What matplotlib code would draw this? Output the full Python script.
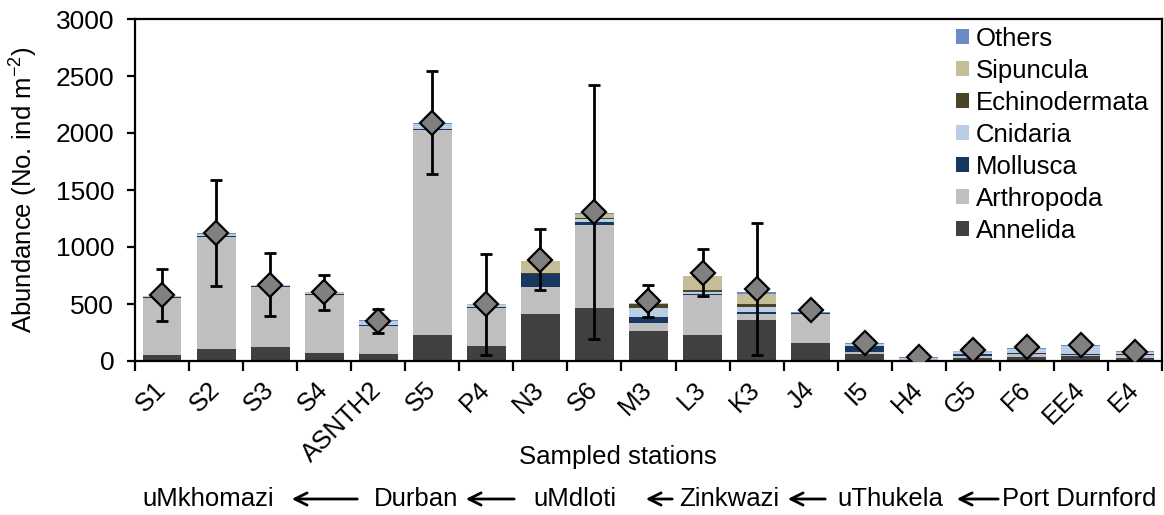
import numpy as np
import matplotlib
matplotlib.use("Agg")
import matplotlib.pyplot as plt
from matplotlib.transforms import ScaledTranslation

plt.rcParams["font.family"] = ["Liberation Sans", "DejaVu Sans"]
plt.rcParams["mathtext.default"] = "regular"

stations = ["S1", "S2", "S3", "S4", "ASNTH2", "S5", "P4", "N3", "S6", "M3",
            "L3", "K3", "J4", "I5", "H4", "G5", "F6", "EE4", "E4"]

# stacked abundance per phylum (No. ind m^-2)
annelida = [55, 105, 125, 73, 61, 228, 134, 410, 467, 263, 228, 359, 162, 65, 10, 25, 38, 45, 30]
arthropoda = [495, 980, 525, 510, 250, 1800, 335, 240, 730, 72, 355, 52, 250, 10, 5, 20, 25, 10, 25]
mollusca = [8, 8, 8, 8, 8, 10, 8, 110, 25, 53, 8, 20, 5, 55, 3, 20, 5, 3, 5]
cnidaria = [8, 20, 5, 8, 35, 40, 15, 5, 25, 73, 15, 43, 3, 15, 10, 15, 35, 75, 15]
echinodermata = [0, 0, 0, 0, 0, 0, 0, 5, 10, 40, 15, 23, 0, 0, 0, 0, 0, 0, 0]
sipuncula = [5, 5, 0, 5, 0, 0, 5, 105, 30, 10, 125, 95, 5, 5, 0, 5, 3, 0, 5]
others = [3, 8, 0, 3, 5, 8, 0, 0, 8, 0, 0, 10, 2, 5, 5, 5, 5, 7, 5]

# mean abundance and its error
mean_abund = [580, 1125, 671, 601, 350, 2090, 496, 890, 1307, 525, 773, 630, 446, 155, 35, 96, 125, 140, 81]
err_abund = [230, 467, 280, 150, 105, 451, 442, 266, 1113, 140, 207, 580, 40, 20, 10, 15, 15, 20, 10]

regions = ["uMkhomazi", "Durban", "uMdloti", "Zinkwazi", "uThukela", "Port Durnford"]

layers = [
    ("Annelida", annelida, "#404040"),
    ("Arthropoda", arthropoda, "#bfbfbf"),
    ("Mollusca", mollusca, "#17375e"),
    ("Cnidaria", cnidaria, "#b9cde5"),
    ("Echinodermata", echinodermata, "#4a4529"),
    ("Sipuncula", sipuncula, "#c4bd97"),
    ("Others", others, "#6a8cc4"),
]

FS = 18.5
W, H = 1164, 515
fig = plt.figure(figsize=(W / 100, H / 100), dpi=100)
ax = fig.add_axes([135 / W, 1 - 361 / H, (1162 - 135) / W, (361 - 19) / H])

x = np.arange(len(stations))
bottom = np.zeros(len(stations))
handles = []
for name, vals, col in layers:
    vals = np.asarray(vals, float)
    b = ax.bar(x, vals, 0.72, bottom=bottom, color=col, label=name, zorder=2, linewidth=0)
    handles.append(b)
    bottom += vals

ax.errorbar(x, mean_abund, yerr=err_abund, fmt="none", ecolor="black",
            elinewidth=2, capsize=4, capthick=2, zorder=3)
ax.plot(x, mean_abund, "D", ms=12.5, mfc="#808080", mec="black", mew=1.6,
        ls="none", zorder=4)

ax.set_xlim(-0.5, len(stations) - 0.5)
ax.set_ylim(0, 3000)
ax.set_yticks(np.arange(0, 3001, 500))
ax.set_xticks(x)
ax.set_xticklabels(stations, rotation=45, ha="right", va="center",
                   rotation_mode="anchor")
ax.set_xticks(np.arange(-0.5, len(stations), 1.0), minor=True)
ax.tick_params(axis="x", which="major", length=0, pad=18, labelsize=FS)
ax.tick_params(axis="x", which="minor", length=7, width=1.6, direction="out")
ax.tick_params(axis="y", length=6, width=1.6, direction="out", pad=9, labelsize=FS + 0.5)
shift = ScaledTranslation(0, 0, fig.dpi_scale_trans)
for lab in ax.get_xticklabels():
    lab.set_transform(lab.get_transform() + shift)
for sp in ax.spines.values():
    sp.set_linewidth(1.6)

ax.set_ylabel(r"Abundance (No. ind m$^{-2}$)", fontsize=FS)
ax.yaxis.set_label_coords(-(135 - 40) / 1027, 0.5)
ax.set_xlabel("Sampled stations", fontsize=FS)
ax.xaxis.set_label_coords((618 - 135) / 1027, -(445 - 361) / 342)

ax.legend(handles[::-1], [h.get_label() for h in handles[::-1]],
          loc="upper left", bbox_to_anchor=((948 - 135) / 1027, 1.0),
          frameon=False, fontsize=FS, handlelength=0.52, handleheight=0.52,
          handletextpad=0.25, labelspacing=0.31, borderpad=0.3, borderaxespad=0)

# coastline order along the bottom
region_x = [208, 416, 575, 729, 890, 1079]
arrow_px = [(289, 360), (463, 517), (643, 675), (785, 828), (954, 1001)]
ty = 1 - 499 / H
for name, px in zip(regions, region_x):
    fig.text(px / W, ty, name, ha="center", va="center", fontsize=FS)
for x0, x1 in arrow_px:
    fig.add_artist(matplotlib.patches.FancyArrowPatch(
        (x1 / W, ty), (x0 / W, ty), transform=fig.transFigure,
        arrowstyle="->", mutation_scale=22, lw=2, color="black"))

fig.savefig("out.png", dpi=100)
